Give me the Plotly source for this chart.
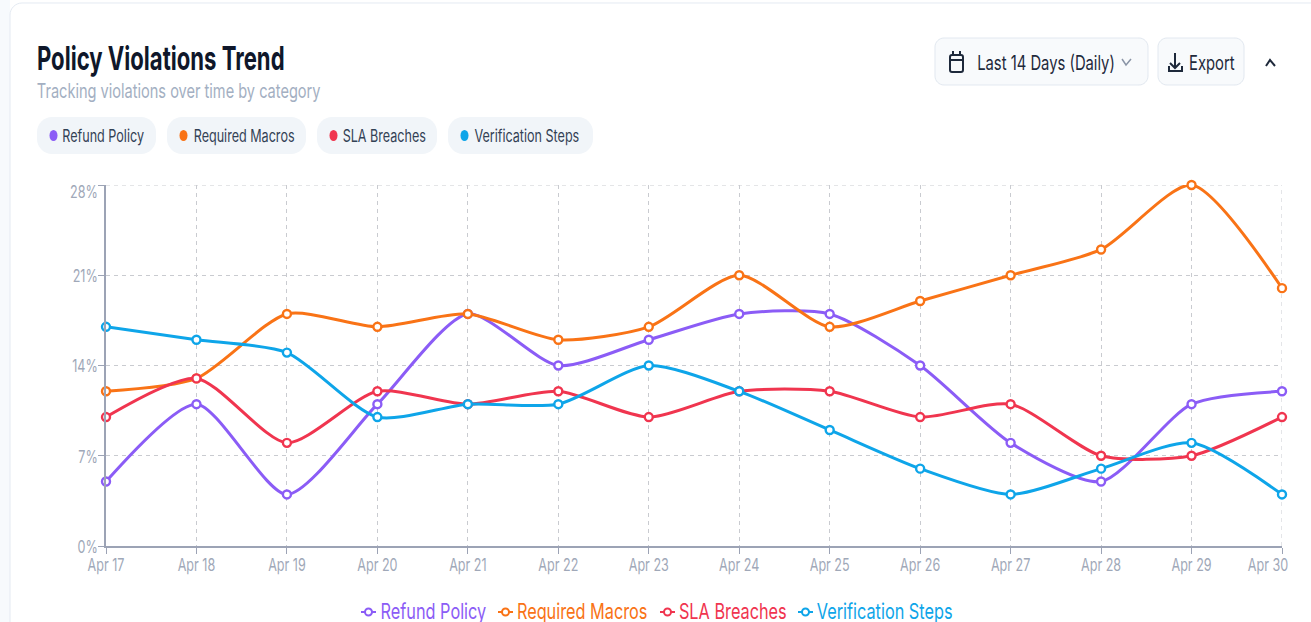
"""Policy violations trend chart"""
import plotly.graph_objects as go

WIDTH = 1311
HEIGHT = 622
PLOT_LEFT = 106
PLOT_RIGHT = 1282
PLOT_TOP = 185
PLOT_BOTTOM = 546
FONT = 'Inter, sans-serif'
GRID_COLOR = '#c9cbd0'
GRID_DASH = '4px,4px'

days = ['Apr 17', 'Apr 18', 'Apr 19', 'Apr 20', 'Apr 21', 'Apr 22', 'Apr 23',
        'Apr 24', 'Apr 25', 'Apr 26', 'Apr 27', 'Apr 28', 'Apr 29', 'Apr 30']
refund_policy = [5, 11, 4, 11, 18, 14, 16, 18, 18, 14, 8, 5, 11, 12]
required_macros = [12, 13, 18, 17, 18, 16, 17, 21, 17, 19, 21, 23, 28, 20]
sla_breaches = [10, 13, 8, 12, 11, 12, 10, 12, 12, 10, 11, 7, 7, 10]
verification_steps = [17, 16, 15, 10, 11, 11, 14, 12, 9, 6, 4, 6, 8, 4]
y_ticks = [0, 7, 14, 21, 28]

series_names = ['Refund Policy', 'Required Macros', 'SLA Breaches', 'Verification Steps']
series_values = [refund_policy, required_macros, sla_breaches, verification_steps]
series_colors = ['#8b5cf6', '#f97316', '#f0354f', '#0ea5e9']


def px(x):
    return (x - PLOT_LEFT) / (PLOT_RIGHT - PLOT_LEFT)


def py(y):
    return (PLOT_BOTTOM - y) / (PLOT_BOTTOM - PLOT_TOP)


def to_path(points):
    return ' '.join(f'{"M" if i == 0 else "L"}{px(x):.5f},{py(y):.5f}' for i, (x, y) in enumerate(points))


def round_rect(x0, y0, x1, y1, r):
    k = r * 0.45
    return (
        f'M{px(x0 + r):.5f},{py(y0):.5f} L{px(x1 - r):.5f},{py(y0):.5f} '
        f'C{px(x1 - k):.5f},{py(y0):.5f} {px(x1):.5f},{py(y0 + k):.5f} {px(x1):.5f},{py(y0 + r):.5f} '
        f'L{px(x1):.5f},{py(y1 - r):.5f} '
        f'C{px(x1):.5f},{py(y1 - k):.5f} {px(x1 - k):.5f},{py(y1):.5f} {px(x1 - r):.5f},{py(y1):.5f} '
        f'L{px(x0 + r):.5f},{py(y1):.5f} '
        f'C{px(x0 + k):.5f},{py(y1):.5f} {px(x0):.5f},{py(y1 - k):.5f} {px(x0):.5f},{py(y1 - r):.5f} '
        f'L{px(x0):.5f},{py(y0 + r):.5f} '
        f'C{px(x0):.5f},{py(y0 + k):.5f} {px(x0 + k):.5f},{py(y0):.5f} {px(x0 + r):.5f},{py(y0):.5f} Z'
    )


def add_box(fig, x0, y0, x1, y1, r, fill, line=None, width=1):
    fig.add_shape(type='path', path=round_rect(x0, y0, x1, y1, r), xref='paper', yref='paper',
                  fillcolor=fill, line=dict(color=line or fill, width=width if line else 0), layer='below')


def add_stroke(fig, points, color, width=2):
    fig.add_shape(type='path', path=to_path(points), xref='paper', yref='paper',
                  line=dict(color=color, width=width), layer='above')


def add_dot(fig, cx, cy, rx, ry, color, fill=None, width=0):
    fig.add_shape(type='circle', xref='paper', yref='paper',
                  x0=px(cx - rx), x1=px(cx + rx), y0=py(cy + ry), y1=py(cy - ry),
                  fillcolor=fill or color, line=dict(color=color, width=width), layer='above')


def add_label(fig, text, x, y, size, color, weight=400):
    # x is the centre of the text, labels get narrowed around it after drawing
    fig.add_annotation(text=text, x=px(x), y=py(y), xref='paper', yref='paper',
                       xanchor='center', yanchor='middle', showarrow=False,
                       font=dict(family=FONT, size=size, color=color, weight=weight))


fig = go.Figure()

for name, values, color in zip(series_names, series_values, series_colors):
    fig.add_trace(go.Scatter(
        x=days, y=values, name=name, mode='lines+markers', cliponaxis=False,
        line=dict(color=color, width=3, shape='spline', smoothing=0.7),
        marker=dict(size=8, color='white', line=dict(color=color, width=2.4)),
    ))

# card behind the chart
add_box(fig, -10, -10, 10, 640, 0, '#f7fafd')
add_box(fig, 10, 3, 1340, 660, 12, '#ffffff', '#e4eaf2', 1)

# header
add_label(fig, 'Policy Violations Trend', 161, 58, 33, '#0f172a', weight=700)
add_label(fig, 'Tracking violations over time by category', 178.5, 91, 19.7, '#a3afc2')

# filter chips
chips = [(37, 156, 103.5), (167, 306, 243.5), (317, 437, 384), (448, 593, 526.5)]
for (x0, x1, text_x), name, color in zip(chips, series_names, series_colors):
    add_box(fig, x0, 117, x1, 154, 15, '#f1f5f9')
    add_dot(fig, x0 + 16.5, 135.5, 4, 5.5, color)
    add_label(fig, name, text_x, 136, 17, '#334155')

# range and export buttons
add_box(fig, 935, 38, 1148, 85, 9, '#f8fafc', '#e2e8f0', 1)
add_box(fig, 1158, 38, 1244, 85, 9, '#f8fafc', '#e2e8f0', 1)
add_label(fig, 'Last 14 Days (Daily)', 1045.5, 63, 20, '#1e293b')
add_label(fig, 'Export', 1212, 63, 20, '#1e293b')

# calendar icon
add_box(fig, 950, 55, 963, 72, 2, 'rgba(0,0,0,0)', '#1e293b', 2)
add_stroke(fig, [(950, 60), (963, 60)], '#1e293b')
add_stroke(fig, [(953, 51), (953, 56)], '#1e293b')
add_stroke(fig, [(960, 51), (960, 56)], '#1e293b')
# chevrons
add_stroke(fig, [(1122, 59), (1126, 65), (1131, 59)], '#8a94a6', 1.5)
add_stroke(fig, [(1266, 66), (1270, 60), (1275, 66)], '#1e293b', 2)
# download icon
add_stroke(fig, [(1175, 53), (1175, 67)], '#1e293b')
add_stroke(fig, [(1170, 63), (1175, 68), (1180, 63)], '#1e293b')
add_stroke(fig, [(1169, 66), (1169, 71), (1182, 71), (1182, 66)], '#1e293b')

# series key under the chart
key_items = [(361, 433), (498, 582), (660, 733), (798, 884.5)]
for (x0, text_x), name, color in zip(key_items, series_names, series_colors):
    add_stroke(fig, [(x0, 612), (x0 + 15, 612)], color, 2)
    add_dot(fig, x0 + 7.5, 612, 3.5, 3.5, color, fill='white', width=2)
    add_label(fig, name, text_x, 611, 22, color)

# plotly drops the gridlines that sit on the range ends
fig.add_shape(type='line', xref='paper', x0=0, x1=1, yref='y', y0=y_ticks[-1], y1=y_ticks[-1],
              line=dict(color=GRID_COLOR, width=1, dash=GRID_DASH), layer='below')
fig.add_shape(type='line', xref='x', x0=days[-1], x1=days[-1], yref='paper', y0=0, y1=1,
              line=dict(color=GRID_COLOR, width=1, dash=GRID_DASH), layer='below')

axis_style = dict(
    showgrid=True, gridcolor=GRID_COLOR, griddash=GRID_DASH, gridwidth=1, automargin=False,
    showline=True, linecolor='#9ca3b5', linewidth=1.5,
    ticks='outside', ticklen=6, tickcolor='#9ca3b5',
    tickfont=dict(family=FONT, size=17, color='#a0a8b8'),
)
fig.update_xaxes(type='category', range=[0, 13], **axis_style)
fig.update_yaxes(range=[0, 28], tickvals=y_ticks, ticktext=[f'{v}%' for v in y_ticks],
                 zeroline=False, **axis_style)
fig.update_layout(
    width=WIDTH, height=HEIGHT, autosize=False, showlegend=False,
    margin=dict(l=PLOT_LEFT, r=WIDTH - PLOT_RIGHT, t=PLOT_TOP, b=HEIGHT - PLOT_BOTTOM, pad=0),
    paper_bgcolor='white', plot_bgcolor='rgba(0,0,0,0)',
)

# the reference text is horizontally condensed, no condensed font is installed.
# tick labels also sit a few pixels off plotly's spots: last x label and top y label stay inside
condense_text = """
document.body.style.margin = '0';
document.body.style.overflow = 'hidden';
document.querySelectorAll('.annotation-text, .xtick text, .ytick text').forEach(function (t) {
    var k = parseFloat(t.style.fontSize) > 30 ? 0.67 : 0.74;
    t.setAttribute('lengthAdjust', 'spacingAndGlyphs');
    t.setAttribute('textLength', t.getComputedTextLength() * k);
});
function nudge(t, dx, dy) {
    t.setAttribute('x', parseFloat(t.getAttribute('x')) + dx);
    t.setAttribute('y', parseFloat(t.getAttribute('y')) + dy);
}
document.querySelectorAll('.xtick text').forEach(function (t) {
    nudge(t, t.textContent === 'Apr 30' ? -14 : 0, -3);
});
document.querySelectorAll('.ytick text').forEach(function (t) {
    nudge(t, 3, t.textContent === '28%' ? 7 : 1);
});
"""
fig.write_html('out.html', config={'displayModeBar': False}, post_script=condense_text)
